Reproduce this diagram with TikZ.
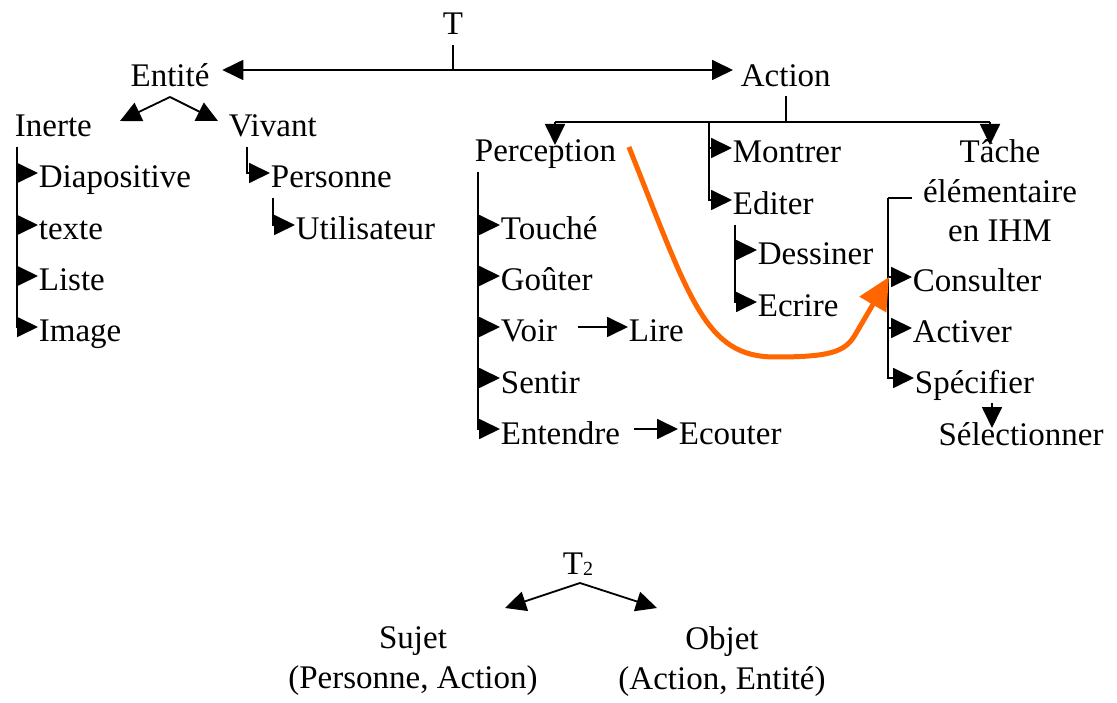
\documentclass[tikz,border=0pt]{standalone}
\usepackage{fontspec}
\setmainfont{Liberation Serif}
\usetikzlibrary{arrows.meta, positioning}
\definecolor{naranja}{RGB}{255,102,0}

\begin{document}
\begin{tikzpicture}[
    x=1pt, y=-1pt,
    line width=1.8pt,
    % Estilo para las flechas negras
    arr/.style={-{Triangle[length=21pt,width=20pt]}},
    % Estilo para las etiquetas de una sola línea
    lbl/.style={
        inner sep=0pt,
        text height=30pt,
        text depth=0pt,
        anchor=base west,
        font=\fontsize{33}{39.5}\selectfont
    },
    % Estilo para las etiquetas de varias líneas
    grp/.style={
        inner sep=0pt,
        align=center,
        anchor=north,
        font=\fontsize{33}{39.5}\selectfont
    }
]
    \useasboundingbox (0,0) rectangle (1117,703);

    % ==========================================
    % RAÍZ T
    % ==========================================
    \node[lbl, anchor=base] (T) at (453,35) {T};
    \node[lbl, anchor=base] (entite) at (170,87) {Entité};
    \node[lbl] (action) at (740,87) {Action};

    \coordinate (tfoot) at (453,70);
    \draw ([yshift=-9pt]T.south) -- (tfoot);
    \draw[arr, shorten >=12pt] (tfoot) -- (tfoot -| entite.east);
    \draw[arr, shorten >=7pt] (tfoot) -- (tfoot -| action.west);

    % ==========================================
    % ENTITÉ (BLOQUE IZQUIERDO)
    % ==========================================
    \node[lbl] (inerte) at (14,137) {Inerte};
    \node[lbl] (vivant) at (228,137) {Vivant};

    \coordinate (entApex) at (170,97);
    \coordinate (entL) at (120,121);
    \coordinate (entR) at (218,121);
    \draw[arr] (entApex) -- (entL);
    \draw[arr] (entApex) -- (entR);

    % Hijos de Inerte
    \node[lbl] (diapo) at (38,188) {Diapositive};
    \node[lbl] (texte) at (38,240) {texte};
    \node[lbl] (liste) at (38,291) {Liste};
    \node[lbl] (image) at (38,342) {Image};

    \coordinate (inerteSpine) at (17,147);
    \foreach \n in {diapo,texte,liste,image}
        \draw[arr] (inerteSpine) |- (\n.west);

    % Hijos de Vivant
    \node[lbl] (personne) at (270,188) {Personne};
    \node[lbl] (utilisateur) at (295,240) {Utilisateur};

    \coordinate (vivantSpine) at (247,147);
    \coordinate (personneSpine) at (273,198);
    \draw[arr] (vivantSpine) |- (personne.west);
    \draw[arr] (personneSpine) |- (utilisateur.west);

    % ==========================================
    % ACTION (BLOQUE DERECHO)
    % ==========================================
    \node[lbl] (perception) at (474,162) {Perception};
    \node[lbl] (montrer) at (732,163) {Montrer};
    \node[lbl] (editer) at (732,215) {Editer};
    \node[grp] (tache) at (1000,139) {Tâche\\élémentaire\\en IHM};

    % Barra horizontal bajo Action
    \coordinate (barL) at (555,122);
    \coordinate (barR) at (990,122);
    \coordinate (barM) at (709,122);
    \draw ([yshift=-8pt]action.south -| 786,0) -- (786,122);
    \draw (barL) -- (barR);
    \draw[arr] (barL) -- ++(0,23);
    \draw[arr] (barR) -- ++(0,23);
    \draw[arr] (barM) |- (montrer.west);
    \draw[arr] (barM) |- (editer.west);

    % Hijos de Perception
    \node[lbl] (touche) at (500,240) {Touché};
    \node[lbl] (gouter) at (500,291) {Goûter};
    \node[lbl] (voir) at (500,342) {Voir};
    \node[lbl] (sentir) at (500,393) {Sentir};
    \node[lbl] (entendre) at (500,444) {Entendre};
    \node[lbl] (lire) at (628,342) {Lire};
    \node[lbl] (ecouter) at (678,444) {Ecouter};

    \coordinate (percSpine) at (478,172);
    \foreach \n in {touche,gouter,voir,sentir,entendre}
        \draw[arr] (percSpine) |- (\n.west);
    \draw[arr] ([xshift=20pt]voir.east) -- (lire.west);
    \draw[arr] ([xshift=13pt]entendre.east) -- (ecouter.west);

    % Hijos de Editer
    \node[lbl] (dessiner) at (757,265) {Dessiner};
    \node[lbl] (ecrire) at (757,317) {Ecrire};

    \coordinate (editerSpine) at (735,225);
    \draw[arr] (editerSpine) |- (dessiner.west);
    \draw[arr] (editerSpine) |- (ecrire.west);

    % Hijos de Tâche élémentaire
    \node[lbl] (consulter) at (912,292) {Consulter};
    \node[lbl] (activer) at (912,343) {Activer};
    \node[lbl] (specifier) at (914,393) {Spécifier};
    \node[lbl, anchor=base] (selection) at (1021,445) {Sélectionner};

    \coordinate (tacheHook) at (912,198);
    \coordinate (tacheSpine) at (888,198);
    \draw (tacheHook) -- (tacheSpine);
    \foreach \n in {consulter,activer,specifier}
        \draw[arr] (tacheSpine) |- (\n.west);
    \coordinate (selTop) at (992,403);
    \draw[arr] (selTop) -- ++(0,25);

    % Curva naranja de Perception a Consulter
    \draw[naranja, line width=5pt, -{Triangle[length=32pt,width=30pt]}]
        ([xshift=12pt]perception.east)
        .. controls (690,300) and (705,357) .. (775,357)
        .. controls (830,357) and (845,352) .. (855,335)
        -- ([xshift=-23pt]consulter.west);

    % ==========================================
    % T2 (BLOQUE INFERIOR)
    % ==========================================
    \node[lbl, anchor=base] (T2) at (578,574)
        {T\raisebox{-1pt}{\fontsize{20}{20}\selectfont 2}};
    \node[grp] (sujet) at (413,626) {Sujet\\(Personne, Action)};
    \node[grp] (objet) at (722,626) {Objet\\(Action, Entité)};

    \coordinate (t2Apex) at (580,583);
    \coordinate (t2L) at (505,608);
    \coordinate (t2R) at (657,608);
    \draw[arr] (t2Apex) -- (t2L);
    \draw[arr] (t2Apex) -- (t2R);

\end{tikzpicture}
\end{document}
